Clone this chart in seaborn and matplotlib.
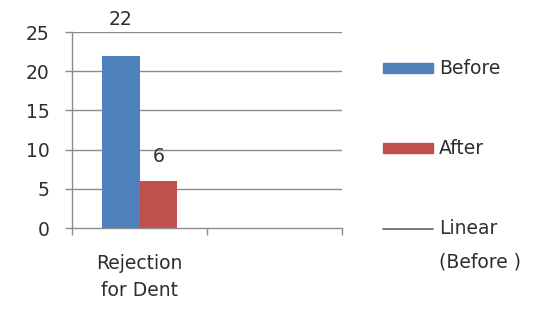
import matplotlib
matplotlib.use("Agg")
import matplotlib.pyplot as plt
import seaborn as sns
import pandas as pd
from matplotlib.lines import Line2D
from matplotlib.patches import Rectangle

categories = ["Rejection\nfor Dent", " "]
series = ["Before", "After"]
before_values = [22, None]
after_values = [6, None]
y_ticks = [0, 5, 10, 15, 20, 25]
colors = ["#4F81BD", "#C0504D"]

rows = []
for c, b, a in zip(categories, before_values, after_values):
    if b is not None:
        rows.append({"cat": c, "series": "Before", "value": b})
    if a is not None:
        rows.append({"cat": c, "series": "After", "value": a})
df = pd.DataFrame(rows)

sns.set_theme(style="white")
plt.rcParams["font.family"] = ["DejaVu Sans"]
text_color = "#2E2E2E"
grid_color = "#8C8C8C"
fs = 13.5

fig = plt.figure(figsize=(5.4, 3.12), dpi=100)
ax = fig.add_axes([72 / 540, 1 - 228 / 312, (342 - 72) / 540, (228 - 32) / 312])

sns.barplot(data=df, x="cat", y="value", hue="series", order=categories,
            hue_order=series, palette=colors, width=0.56, ax=ax,
            legend=False, saturation=1, edgecolor="none")

ax.set_xlim(-0.5, 1.5)
ax.set_ylim(0, 25)
ax.set_yticks(y_ticks)
ax.set_xlabel("")
ax.set_ylabel("")
for y in y_ticks[1:]:
    ax.axhline(y, color=grid_color, lw=1, zorder=0)

for side in ["top", "right"]:
    ax.spines[side].set_visible(False)
for side in ["left", "bottom"]:
    ax.spines[side].set_color(grid_color)
    ax.spines[side].set_linewidth(1)

ax.tick_params(axis="y", direction="out", length=5, width=1, color=grid_color,
               labelsize=fs, labelcolor=text_color, pad=11, left=True)
ax.set_xticks([0])
ax.set_xticklabels([categories[0]])
ax.set_xticks([-0.5, 0.5, 1.5], minor=True)
ax.tick_params(axis="x", which="major", length=0, labelsize=fs,
               labelcolor=text_color, pad=19)
ax.tick_params(axis="x", which="minor", direction="out", length=5, width=1,
               color=grid_color, bottom=True)
for lab in ax.get_xticklabels():
    lab.set_linespacing(1.5)

ax.bar_label(ax.containers[0], labels=[str(v) for v in before_values if v is not None],
             padding=19, fontsize=fs, color=text_color)
ax.bar_label(ax.containers[1], labels=[str(v) for v in after_values if v is not None],
             padding=11, fontsize=fs, color=text_color)

# legend
def fx(px):
    return px / 540
def fy(py):
    return 1 - py / 312

fig.patches.append(Rectangle((fx(383), fy(73)), fx(50), 10 / 312, color=colors[0],
                             transform=fig.transFigure, figure=fig))
fig.text(fx(439), fy(68), "Before", fontsize=fs, color=text_color, va="center")
fig.patches.append(Rectangle((fx(383), fy(153)), fx(50), 10 / 312, color=colors[1],
                             transform=fig.transFigure, figure=fig))
fig.text(fx(439), fy(148), "After", fontsize=fs, color=text_color, va="center")
fig.lines.append(Line2D([fx(383), fx(433)], [fy(229), fy(229)], color="#606060",
                        lw=1.2, transform=fig.transFigure))
fig.text(fx(439), fy(228), "Linear", fontsize=fs, color=text_color, va="center")
fig.text(fx(439), fy(262), "(Before )", fontsize=fs, color=text_color, va="center")

fig.savefig("out.png", dpi=100)
